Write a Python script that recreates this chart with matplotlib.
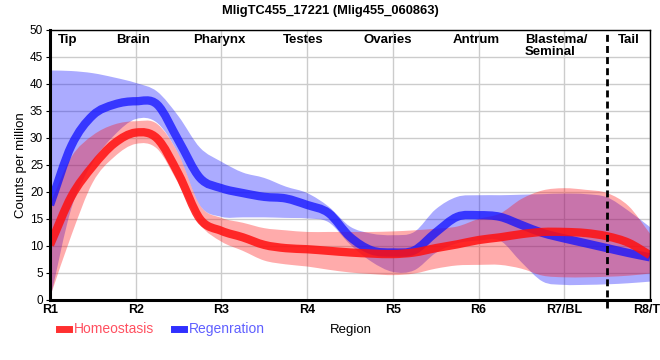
import matplotlib
matplotlib.use("Agg")
import matplotlib.pyplot as plt
import numpy as np
from matplotlib.lines import Line2D
from matplotlib.path import Path
from matplotlib.patches import PathPatch

plt.rcParams['font.family'] = ['Liberation Sans', 'DejaVu Sans']

# positions along the body, quarter region steps (R1 = 1 ... R8 = 8)
pos = [1.0, 1.25, 1.5, 1.75, 2.0, 2.25, 2.5, 2.75, 3.0, 3.25, 3.5, 3.75, 4.0, 4.25,
       4.5, 4.75, 5.0, 5.25, 5.5, 5.75, 6.0, 6.25, 6.5, 6.75, 7.0, 7.25, 7.5, 7.75, 8.0]

homeo_mean = [10.2, 19.2, 24.8, 29.0, 31.0, 29.9, 23.3, 15.0, 12.8, 11.6, 10.2, 9.6, 9.4, 9.1,
              8.8, 8.6, 8.5, 8.8, 9.6, 10.3, 11.1, 11.6, 12.2, 12.6, 12.6, 12.4, 11.8, 10.6, 8.3]
homeo_upper = [17.8, 26.5, 30.5, 32.5, 33.1, 32.6, 27.0, 17.5, 15.2, 14.3, 13.3, 12.9, 12.6, 12.6,
               12.6, 12.6, 12.7, 12.9, 13.2, 13.6, 15.0, 16.0, 18.7, 20.3, 20.7, 20.4, 19.8, 17.4, 12.3]
homeo_lower = [0.5, 12.0, 21.8, 26.5, 28.9, 28.0, 21.5, 14.0, 10.8, 9.1, 7.3, 6.6, 6.2, 5.6,
               5.1, 4.8, 4.6, 4.9, 5.8, 6.4, 6.5, 6.5, 5.8, 4.5, 4.2, 4.2, 4.3, 4.5, 4.9]

regen_mean = [17.6, 28.6, 34.2, 36.2, 36.8, 36.2, 29.5, 22.6, 20.7, 19.8, 19.1, 18.8, 17.6, 16.1,
              11.7, 9.2, 8.8, 9.2, 12.5, 15.4, 15.7, 15.4, 13.9, 12.4, 11.4, 10.5, 9.6, 8.7, 7.9]
regen_upper = [42.5, 42.4, 42.0, 41.2, 40.2, 38.6, 34.0, 28.2, 25.6, 23.6, 22.6, 21.0, 19.8, 17.3,
               13.6, 12.3, 12.0, 12.6, 16.8, 19.1, 19.4, 19.4, 19.5, 19.6, 19.7, 19.6, 19.0, 16.5, 13.5]
regen_lower = [0.0, 17.0, 25.5, 30.5, 33.5, 32.8, 27.0, 17.5, 15.4, 15.3, 15.3, 15.2, 15.1, 14.4,
               10.3, 7.1, 5.2, 5.5, 8.7, 10.5, 11.0, 11.0, 7.0, 3.4, 2.8, 2.8, 2.9, 3.1, 3.4]

tick_labels = ['R1', 'R2', 'R3', 'R4', 'R5', 'R6', 'R7/BL', 'R8/TL']
region_names = ['Tip', 'Brain', 'Pharynx', 'Testes', 'Ovaries', 'Antrum', 'Blastema/\nSeminal', 'Tail']
region_pos = [1.21, 1.97, 2.98, 3.95, 4.94, 5.97, 6.72, 7.75]


def curve_verts(x, y):
    # catmull-rom style tangents turned into cubic bezier handles
    x = np.asarray(x, float)
    y = np.asarray(y, float)
    m = np.empty_like(y)
    m[1:-1] = (y[2:] - y[:-2]) / (x[2:] - x[:-2])
    m[0] = (y[1] - y[0]) / (x[1] - x[0])
    m[-1] = (y[-1] - y[-2]) / (x[-1] - x[-2])
    verts = [(x[0], y[0])]
    for i in range(len(x) - 1):
        h = x[i + 1] - x[i]
        verts.append((x[i] + h / 3, y[i] + m[i] * h / 3))
        verts.append((x[i + 1] - h / 3, y[i + 1] - m[i + 1] * h / 3))
        verts.append((x[i + 1], y[i + 1]))
    return verts


def smooth_line(ax, x, y, **kw):
    verts = curve_verts(x, y)
    codes = [Path.MOVETO] + [Path.CURVE4] * (len(verts) - 1)
    ax.add_patch(PathPatch(Path(verts, codes), fill=False, capstyle='butt', **kw))


def smooth_band(ax, x, lo, hi, **kw):
    top = curve_verts(x, hi)
    bot = curve_verts(x[::-1], lo[::-1])
    verts = top + bot + [top[0]]
    codes = ([Path.MOVETO] + [Path.CURVE4] * (len(top) - 1) + [Path.LINETO]
             + [Path.CURVE4] * (len(bot) - 1) + [Path.CLOSEPOLY])
    ax.add_patch(PathPatch(Path(verts, codes), lw=0, **kw))


fig = plt.figure(figsize=(6.6, 3.6), dpi=100)
ax = fig.add_axes([0.0758, 0.1667, 0.909, 0.75])

red = '#ff1010'
blue = '#1010ff'

smooth_band(ax, pos, regen_lower, regen_upper, facecolor=blue, alpha=0.35)
smooth_band(ax, pos, homeo_lower, homeo_upper, facecolor=red, alpha=0.35)
smooth_line(ax, pos, regen_mean, edgecolor=blue, lw=6, alpha=0.75)
smooth_line(ax, pos, homeo_mean, edgecolor=red, lw=6, alpha=0.85)

# tail boundary
ax.plot([7.5, 7.5], [-1.5, 50], color='black', lw=2, ls=(0, (2.5, 1.5)), clip_on=False)

ax.set_xlim(1, 8)
ax.set_ylim(0, 50)
ax.set_yticks(range(0, 51, 5))
ax.set_xticks(range(1, 9))
ax.set_xticklabels(tick_labels, fontweight='bold', fontsize=9)
ax.tick_params(axis='x', length=0, pad=3)
ax.tick_params(axis='y', length=3, labelsize=8.5, pad=2)
ax.grid(True, color='#cccccc', lw=1)
ax.set_axisbelow(True)

for side in ['top', 'right']:
    ax.spines[side].set_linewidth(1)
for side in ['left', 'bottom']:
    ax.spines[side].set_linewidth(2.2)

for name, x in zip(region_names, region_pos):
    if '\n' in name:
        ax.text(x - 0.18, 49.2, name, ha='left', va='top', fontweight='bold', fontsize=9.5,
                linespacing=0.95)
    else:
        ax.text(x, 49.2, name, ha='center', va='top', fontweight='bold', fontsize=9.5)

ax.set_ylabel('Counts per million', fontsize=9.5, labelpad=2)
fig.suptitle('MligTC455_17221 (Mlig455_060863)', fontweight='bold', fontsize=9.3, y=0.985)

handles = [Line2D([], [], color='#ff3030', lw=5), Line2D([], [], color='#3030ff', lw=5)]
fig.legend(handles, ['Homeostasis', 'Regenration'], loc='center left',
           bbox_to_anchor=(0.07, 0.085), ncol=2, frameon=False, handlelength=0.75,
           handletextpad=0.35, columnspacing=1.4, fontsize=10,
           labelcolor=['#ff5060', '#6060ff'])
fig.text(0.532, 0.083, 'Region', ha='center', va='center', fontsize=9.5)

fig.savefig('out.png', dpi=100)
